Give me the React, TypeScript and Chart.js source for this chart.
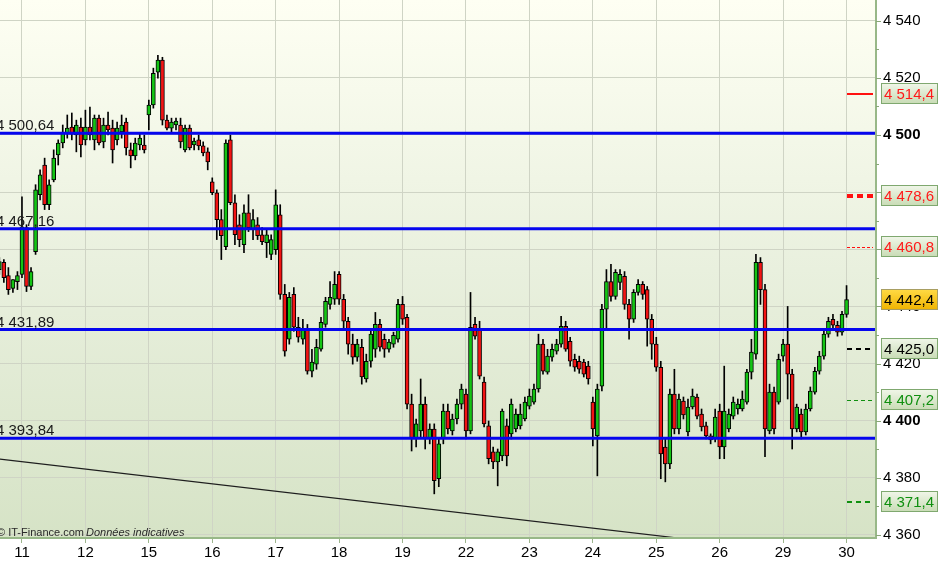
import React, { useEffect, useRef } from 'react';
import { Chart, registerables } from 'chart.js';

Chart.register(...registerables);

const FONT = '"Liberation Sans", Arial, sans-serif';

// session labels on the x axis and the candle index where each session starts
const dayLabels = ['11', '12', '15', '16', '17', '18', '19', '22', '23', '24', '25', '26', '29', '30'];
const dayStarts = [5, 19, 33, 47, 61, 75, 89, 103, 117, 131, 145, 159, 173, 187];

// candles (one row per session, first row = end of the previous session)
const opens = [
  4452.9, 4455.4, 4450.8, 4446.3, 4448.7,
  4451.2, 4467.6, 4447.0, 4459.2, 4479.1, 4489.5, 4475.6, 4484.3, 4493.0, 4497.2, 4500.7, 4502.8, 4500.0, 4502.8,
  4498.3, 4502.8, 4498.3, 4505.9, 4497.6, 4503.5, 4502.4, 4498.3, 4501.1, 4504.5, 4494.8, 4492.7, 4496.5, 4496.5,
  4507.0, 4510.5, 4522.0, 4526.2, 4505.2, 4502.4, 4503.5, 4503.5, 4494.8, 4502.4, 4496.5, 4498.3, 4496.2, 4494.1,
  4483.6, 4479.8, 4470.4, 4460.9, 4498.3, 4476.3, 4468.6, 4461.6, 4472.8, 4466.9, 4468.6, 4465.1, 4462.3, 4458.2,
  4459.9, 4472.1, 4444.2, 4428.5, 4444.2, 4432.7, 4428.5, 4432.0, 4417.3, 4419.8, 4425.0, 4433.7, 4440.7, 4442.5,
  4451.2, 4442.5, 4434.8, 4426.8, 4422.2, 4425.7, 4414.6, 4420.8, 4425.0, 4433.7, 4428.5, 4425.0, 4426.8, 4428.5,
  4440.7, 4436.2, 4405.8, 4393.6, 4396.4, 4405.8, 4393.6, 4397.1, 4379.7, 4393.6, 4403.4, 4396.4, 4400.6, 4405.8,
  4409.3, 4396.4, 4433.7, 4432.0, 4413.5, 4398.2, 4389.1, 4385.6, 4387.7, 4398.2, 4395.4, 4397.1, 4398.2, 4400.6,
  4405.1, 4406.5, 4411.1, 4426.8, 4417.0, 4422.2, 4424.3, 4426.8, 4433.0, 4427.8, 4421.5, 4420.8, 4420.5, 4419.1,
  4406.5, 4394.7, 4412.1, 4439.0, 4448.7, 4443.5, 4448.4, 4450.5, 4440.7, 4435.5, 4444.9, 4447.7, 4445.9, 4435.5,
  4426.8, 4418.7, 4390.8, 4384.9, 4409.3, 4397.1, 4406.9, 4396.1, 4404.8, 4408.3, 4402.3, 4398.2, 4394.7, 4393.6,
  4403.4, 4390.8, 4397.1, 4401.6, 4404.1, 4404.1, 4406.5, 4417.0, 4423.3, 4455.4, 4445.9, 4396.4, 4410.0, 4406.5,
  4422.6, 4426.8, 4416.3, 4397.1, 4402.3, 4396.1, 4404.1, 4410.0, 4417.3, 4422.6, 4430.3, 4435.5, 4433.4, 4431.0,
  4437.2,
];
const highs = [
  4457.1, 4456.4, 4453.6, 4449.4, 4452.2,
  4478.4, 4468.6, 4453.6, 4482.6, 4487.8, 4491.9, 4484.3, 4494.8, 4498.3, 4503.5, 4507.0, 4507.7, 4505.2, 4505.9,
  4508.7, 4509.8, 4507.0, 4507.0, 4505.9, 4508.0, 4505.2, 4504.5, 4507.0, 4505.9, 4497.2, 4498.9, 4500.7, 4500.0,
  4512.2, 4523.4, 4527.9, 4527.2, 4507.0, 4505.9, 4505.9, 4505.9, 4503.5, 4503.5, 4498.9, 4500.0, 4497.6, 4495.5,
  4485.0, 4480.8, 4473.9, 4498.3, 4500.0, 4479.1, 4472.1, 4475.6, 4479.1, 4473.9, 4471.1, 4467.6, 4466.9, 4465.1,
  4480.8, 4475.6, 4447.7, 4444.9, 4446.6, 4436.2, 4435.5, 4433.7, 4425.0, 4428.5, 4436.2, 4443.2, 4448.7, 4452.2,
  4452.2, 4444.2, 4436.2, 4430.3, 4428.5, 4428.5, 4423.3, 4432.0, 4437.9, 4435.5, 4430.3, 4428.5, 4431.0, 4442.5,
  4443.5, 4437.2, 4409.3, 4400.6, 4414.6, 4408.3, 4398.9, 4398.9, 4393.6, 4405.8, 4405.8, 4402.3, 4407.6, 4412.8,
  4411.1, 4444.9, 4436.2, 4434.8, 4415.3, 4399.9, 4390.8, 4390.1, 4404.1, 4400.6, 4407.6, 4404.1, 4405.8, 4408.3,
  4411.1, 4412.8, 4430.3, 4428.5, 4425.0, 4426.8, 4428.5, 4436.5, 4434.8, 4429.2, 4423.3, 4422.6, 4421.5, 4420.8,
  4408.3, 4412.8, 4440.7, 4452.9, 4454.7, 4452.9, 4452.9, 4452.2, 4442.5, 4445.9, 4449.4, 4448.7, 4447.0, 4437.2,
  4429.2, 4420.8, 4393.6, 4411.1, 4418.0, 4409.3, 4408.3, 4407.6, 4411.1, 4409.3, 4404.1, 4399.5, 4395.4, 4404.1,
  4405.8, 4419.1, 4404.1, 4408.3, 4407.6, 4410.4, 4418.0, 4428.5, 4458.2, 4457.1, 4447.7, 4412.8, 4411.8, 4423.3,
  4428.5, 4440.0, 4418.0, 4405.8, 4404.1, 4405.8, 4411.8, 4418.7, 4424.3, 4432.0, 4436.2, 4437.2, 4434.8, 4438.3,
  4447.3,
];
const lows = [
  4451.2, 4448.4, 4444.2, 4444.9, 4445.9,
  4450.1, 4445.2, 4445.9, 4458.2, 4477.3, 4473.9, 4473.9, 4483.6, 4489.5, 4495.5, 4498.9, 4498.3, 4494.1, 4492.3,
  4496.5, 4498.3, 4494.8, 4496.5, 4495.5, 4500.0, 4490.2, 4496.5, 4498.9, 4493.0, 4488.5, 4491.3, 4494.8, 4493.7,
  4501.8, 4509.4, 4519.9, 4503.5, 4501.8, 4501.1, 4501.8, 4495.5, 4494.1, 4494.8, 4494.8, 4494.8, 4492.7, 4487.8,
  4479.1, 4463.4, 4456.4, 4459.9, 4475.6, 4461.6, 4460.9, 4458.8, 4466.2, 4463.4, 4463.4, 4461.6, 4457.1, 4456.4,
  4458.2, 4442.5, 4422.6, 4426.8, 4431.3, 4427.5, 4426.8, 4416.3, 4415.3, 4418.0, 4424.3, 4432.7, 4439.0, 4440.7,
  4440.7, 4432.0, 4423.3, 4419.8, 4420.8, 4412.8, 4413.5, 4418.7, 4422.2, 4424.3, 4422.2, 4424.0, 4425.7, 4427.5,
  4433.7, 4404.1, 4389.4, 4390.8, 4394.3, 4390.1, 4391.9, 4374.4, 4376.9, 4391.9, 4395.4, 4395.0, 4398.9, 4404.1,
  4393.6, 4395.4, 4428.5, 4414.6, 4397.8, 4384.9, 4383.2, 4377.2, 4386.0, 4384.2, 4393.6, 4396.1, 4397.1, 4399.9,
  4404.1, 4405.8, 4410.0, 4416.3, 4416.3, 4420.8, 4423.3, 4425.7, 4424.3, 4419.1, 4417.3, 4416.6, 4415.3, 4412.8,
  4391.2, 4380.7, 4410.4, 4432.0, 4441.8, 4442.5, 4445.9, 4439.0, 4428.5, 4434.4, 4443.9, 4442.5, 4426.1, 4421.5,
  4417.3, 4379.7, 4378.6, 4383.2, 4395.4, 4395.4, 4400.6, 4394.7, 4404.1, 4400.6, 4396.4, 4393.6, 4391.9, 4392.6,
  4386.7, 4386.7, 4396.1, 4400.6, 4402.3, 4403.4, 4405.8, 4414.6, 4421.5, 4440.7, 4387.4, 4395.4, 4395.4, 4405.8,
  4420.8, 4407.6, 4390.1, 4396.1, 4393.6, 4395.0, 4403.4, 4409.3, 4416.3, 4421.5, 4429.2, 4432.0, 4429.6, 4429.9,
  4436.2,
];
const closes = [
  4455.7, 4450.1, 4445.9, 4449.4, 4450.8,
  4467.9, 4447.0, 4452.2, 4480.8, 4486.1, 4475.6, 4482.6, 4491.9, 4497.2, 4500.7, 4502.4, 4500.3, 4503.5, 4496.5,
  4502.8, 4500.0, 4505.9, 4497.2, 4503.5, 4501.8, 4494.8, 4502.4, 4503.5, 4495.5, 4492.7, 4497.2, 4498.9, 4494.8,
  4510.5, 4521.6, 4526.2, 4505.2, 4502.4, 4504.5, 4504.9, 4497.6, 4502.4, 4495.5, 4497.9, 4496.2, 4493.7, 4490.6,
  4479.8, 4470.4, 4464.8, 4497.2, 4476.3, 4465.1, 4463.4, 4472.8, 4467.6, 4470.4, 4464.8, 4462.7, 4465.1, 4463.4,
  4475.6, 4444.2, 4424.3, 4443.2, 4432.7, 4429.2, 4432.0, 4417.3, 4420.5, 4425.7, 4434.4, 4441.8, 4443.2, 4447.7,
  4442.5, 4434.8, 4426.8, 4422.2, 4426.8, 4415.3, 4420.8, 4430.3, 4433.7, 4425.7, 4425.0, 4427.5, 4429.9, 4440.7,
  4435.5, 4405.8, 4393.6, 4398.9, 4405.8, 4393.6, 4397.1, 4379.0, 4391.9, 4403.4, 4397.1, 4400.6, 4405.8, 4411.1,
  4396.4, 4432.7, 4429.6, 4415.6, 4398.9, 4386.7, 4385.6, 4389.1, 4403.4, 4387.7, 4405.8, 4402.3, 4402.3, 4406.5,
  4408.6, 4411.1, 4426.8, 4417.3, 4422.6, 4425.0, 4426.8, 4433.0, 4425.0, 4420.8, 4418.7, 4418.0, 4416.3, 4414.6,
  4397.1, 4411.1, 4439.0, 4448.7, 4443.5, 4451.9, 4451.2, 4440.7, 4435.5, 4444.9, 4447.7, 4444.2, 4435.5, 4426.8,
  4418.7, 4388.4, 4384.9, 4409.3, 4397.1, 4407.6, 4402.0, 4404.8, 4408.6, 4401.6, 4397.8, 4394.7, 4393.3, 4401.3,
  4390.8, 4403.4, 4402.3, 4406.5, 4405.8, 4407.6, 4417.0, 4424.0, 4455.4, 4445.9, 4397.1, 4410.0, 4397.1, 4421.5,
  4426.8, 4416.3, 4397.1, 4404.8, 4396.1, 4404.1, 4410.4, 4417.3, 4422.6, 4430.3, 4434.8, 4433.4, 4431.0, 4437.2,
  4442.4,
];

// horizontal support / resistance levels (blue) and right-hand price markers
const supportLevels = [4500.64, 4467.16, 4431.89, 4393.84];
const markerLevels = [4514.4, 4478.6, 4460.8, 4442.4, 4425.0, 4407.2, 4371.4];
// long-term trend line, two anchor points (candle index, price)
const trendX = [0, 190];
const trendY = [4386.6, 4351.5];
const yTicks = [4360, 4370, 4380, 4390, 4400, 4410, 4420, 4430, 4440, 4450, 4460, 4470, 4480, 4490, 4500, 4510, 4520, 4530, 4540];

const X_MIN = 0.15;
const X_MAX = 193.5;
const Y_MIN = 4358.95;
const Y_MAX = 4547.25;

const GREEN = '#14c414';
const RED = '#f21414';

// how each marker is drawn
const markerStyles = [
  { line: '#ff1010', width: 2, dash: [] as number[], text: '#ff1a1a', box: 'green' },
  { line: '#ff1010', width: 4, dash: [6, 4], text: '#ff1a1a', box: 'green' },
  { line: '#ff1010', width: 1, dash: [3, 2], text: '#ff1a1a', box: 'green' },
  { line: '', width: 0, dash: [], text: '#000000', box: 'yellow' },
  { line: '#000000', width: 2, dash: [5, 4], text: '#000000', box: 'green' },
  { line: '#109010', width: 1, dash: [4, 3], text: '#0f8f0f', box: 'green' },
  { line: '#109010', width: 2, dash: [5, 4], text: '#0f8f0f', box: 'green' },
];

const fmt = (v: number, d: number) => {
  const [a, b] = v.toFixed(d).split('.');
  const int = a.replace(/\B(?=(\d{3})+(?!\d))/g, ' ');
  return b ? `${int},${b}` : int;
};

const decorPlugin = {
  id: 'itfDecor',
  beforeDraw(chart: any) {
    const { ctx, chartArea: a } = chart;
    ctx.save();
    ctx.fillStyle = '#ffffff';
    ctx.fillRect(0, 0, chart.width, chart.height);
    const g = ctx.createLinearGradient(0, a.top, 0, a.bottom);
    g.addColorStop(0, '#fefff3');
    g.addColorStop(0.5, '#e9f0de');
    g.addColorStop(1, '#d6e3c6');
    ctx.fillStyle = g;
    ctx.fillRect(a.left, a.top, a.right - a.left, a.bottom - a.top);
    ctx.restore();
  },
  afterDatasetsDraw(chart: any) {
    const { ctx, chartArea: a, scales } = chart;
    const y = scales.y;
    const x = scales.x;
    ctx.save();
    // level labels
    ctx.font = `15px ${FONT}`;
    ctx.fillStyle = '#1a1a1a';
    ctx.textBaseline = 'alphabetic';
    ctx.textAlign = 'left';
    supportLevels.forEach((v) => {
      ctx.fillText(fmt(v, 2), a.left - 4, y.getPixelForValue(v) - 3);
    });
    // marker segments at the right edge
    const x0 = x.getPixelForValue(dayStarts[dayStarts.length - 1]);
    markerLevels.forEach((v, i) => {
      const s = markerStyles[i];
      if (!s.line) return;
      const py = Math.round(y.getPixelForValue(v)) + (s.width % 2 ? 0.5 : 0);
      ctx.strokeStyle = s.line;
      ctx.lineWidth = s.width;
      ctx.setLineDash(s.dash);
      ctx.beginPath();
      ctx.moveTo(Math.round(x0), py);
      ctx.lineTo(a.right - 3, py);
      ctx.stroke();
    });
    ctx.setLineDash([]);
    // watermark
    ctx.fillStyle = '#2a2a2a';
    ctx.font = `11px ${FONT}`;
    ctx.fillText('© IT-Finance.com', a.left - 3, a.bottom - 2);
    ctx.font = `italic 11px ${FONT}`;
    ctx.fillText('Données indicatives', a.left + 86, a.bottom - 2);
    ctx.restore();
  },
  afterDraw(chart: any) {
    const { ctx, chartArea: a, scales } = chart;
    const y = scales.y;
    ctx.save();
    // frame (right + bottom)
    ctx.strokeStyle = '#98b888';
    ctx.lineWidth = 2;
    ctx.beginPath();
    ctx.moveTo(a.left, a.bottom);
    ctx.lineTo(a.right, a.bottom);
    ctx.lineTo(a.right, a.top);
    ctx.stroke();
    // y tick marks, long for labelled values
    ctx.strokeStyle = '#8aa77a';
    ctx.lineWidth = 1;
    yTicks.forEach((v) => {
      const py = Math.round(y.getPixelForValue(v)) + 0.5;
      ctx.beginPath();
      ctx.moveTo(a.right, py);
      ctx.lineTo(a.right + (v % 20 === 0 ? 5 : 3), py);
      ctx.stroke();
    });
    // price boxes
    ctx.font = `15px ${FONT}`;
    ctx.textBaseline = 'middle';
    ctx.textAlign = 'left';
    markerLevels.forEach((v, i) => {
      const s = markerStyles[i];
      const py = Math.round(y.getPixelForValue(v));
      const bx = a.right + 5.5;
      const by = py - 10.5;
      const g = ctx.createLinearGradient(0, by, 0, by + 20);
      if (s.box === 'yellow') {
        g.addColorStop(0, '#ffda45');
        g.addColorStop(1, '#f0b400');
      } else {
        g.addColorStop(0, '#f0f6e8');
        g.addColorStop(1, '#c9dcb6');
      }
      ctx.fillStyle = g;
      ctx.fillRect(bx, by, 56, 20);
      ctx.strokeStyle = s.box === 'yellow' ? '#a89e62' : '#7fa86f';
      ctx.lineWidth = 1;
      ctx.strokeRect(bx, by, 56, 20);
      ctx.fillStyle = s.text;
      ctx.fillText(fmt(v, 1), bx + 2.5, py + 1);
    });
    ctx.restore();
  },
};

const App: React.FC = () => {
  const canvasRef = useRef<HTMLCanvasElement>(null);

  useEffect(() => {
    if (!canvasRef.current) return;
    const ctx = canvasRef.current.getContext('2d');
    if (!ctx) return;

    const wickData = highs.map((h, i) => ({ x: i, y: [lows[i], h] }));
    const bodyData = opens.map((o, i) => ({ x: i, y: [o, closes[i]] }));
    const bodyColors = opens.map((o, i) => (closes[i] >= o ? GREEN : RED));

    const levelSets = supportLevels.map((v) => ({
      type: 'line' as const,
      data: [{ x: X_MIN, y: v }, { x: X_MAX, y: v }],
      borderColor: '#0505ee',
      borderWidth: 3,
      pointRadius: 0,
      order: 0,
    }));

    const chart = new Chart(ctx, {
      type: 'bar',
      data: {
        datasets: [
          ...levelSets,
          {
            type: 'bar',
            data: bodyData as any,
            barThickness: 4,
            backgroundColor: bodyColors,
            borderColor: '#000000',
            borderWidth: 1,
            borderSkipped: false,
            grouped: false,
            order: 1,
          },
          {
            type: 'bar',
            data: wickData as any,
            barThickness: 1,
            backgroundColor: '#000000',
            borderWidth: 0,
            grouped: false,
            order: 2,
          },
          {
            type: 'line',
            data: trendX.map((t, i) => ({ x: t, y: trendY[i] })),
            borderColor: '#1e1e1e',
            borderWidth: 1.2,
            pointRadius: 0,
            order: 3,
          },
        ] as any,
      },
      options: {
        responsive: true,
        maintainAspectRatio: false,
        animation: false,
        layout: { padding: 0 },
        plugins: {
          legend: { display: false },
          tooltip: { enabled: false },
        },
        scales: {
          x: {
            type: 'linear',
            min: X_MIN,
            max: X_MAX,
            offset: false,
            afterBuildTicks: (s: any) => {
              s.ticks = dayStarts.map((v) => ({ value: v }));
            },
            afterFit: (s: any) => {
              s.height = 26;
              s.paddingLeft = 0;
              s.paddingRight = 0;
            },
            grid: { color: '#cfd4c5', tickColor: '#9db58d', tickLength: 5, offset: false },
            border: { display: false },
            ticks: {
              padding: 1,
              color: '#000000',
              font: { family: FONT, size: 15 },
              maxRotation: 0,
              autoSkip: false,
              callback: (_v: any, i: number) => dayLabels[i],
            },
          },
          y: {
            type: 'linear',
            position: 'right',
            min: Y_MIN,
            max: Y_MAX,
            afterBuildTicks: (s: any) => {
              s.ticks = yTicks.map((v) => ({ value: v }));
            },
            afterFit: (s: any) => {
              s.width = 67;
              s.paddingTop = 0;
              s.paddingBottom = 0;
            },
            grid: {
              color: (c: any) => (c.tick && c.tick.value % 20 === 0 ? '#cfd4c5' : 'rgba(0,0,0,0)'),
              drawTicks: false,
            },
            border: { display: false },
            ticks: {
              padding: 7,
              color: '#000000',
              autoSkip: false,
              font: (c: any) => ({
                family: FONT,
                size: 15,
                weight: c.tick && c.tick.value % 100 === 0 ? 'bold' : 'normal',
              }),
              callback: (v: any) => (Number(v) % 20 === 0 ? fmt(Number(v), 0) : ''),
            },
          },
        },
      } as any,
      plugins: [decorPlugin],
    });

    return () => {
      chart.destroy();
    };
  }, []);

  return (
    <div style={{ position: 'absolute', left: 0, top: 0, width: 943, height: 564, background: '#ffffff' }}>
      <canvas ref={canvasRef}></canvas>
    </div>
  );
};

export default App;
